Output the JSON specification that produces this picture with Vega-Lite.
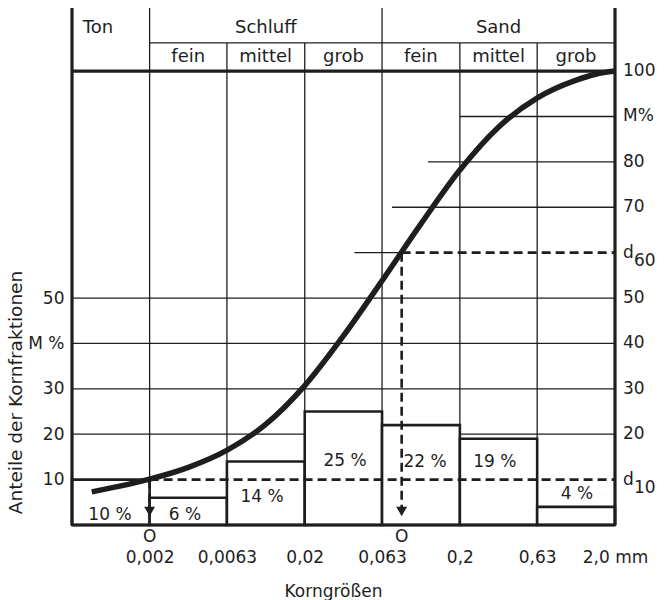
{
  "$schema": "https://vega.github.io/schema/vega-lite/v6.json",
  "width": 543,
  "height": 517,
  "autosize": {"type": "none"},
  "padding": {"left": 72, "top": 8, "right": 53, "bottom": 75},
  "background": "white",
  "config": {
    "view": {"stroke": null},
    "font": "DejaVu Sans",
    "axis": {"labelFont": "DejaVu Sans", "titleFont": "DejaVu Sans", "labelColor": "#1e1e1e", "titleColor": "#1e1e1e", "labelFontSize": 17, "titleFontSize": 17, "titleFontWeight": "normal", "domain": false, "ticks": false, "grid": false},
    "text": {"font": "DejaVu Sans", "fontSize": 17, "color": "#1e1e1e"}
  },
  "datasets": {
    "thin": [
      {"x": 0.000632, "x2": 2, "y": 20, "y2": 20},
      {"x": 0.000632, "x2": 2, "y": 30, "y2": 30},
      {"x": 0.000632, "x2": 2, "y": 40, "y2": 40},
      {"x": 0.000632, "x2": 2, "y": 50, "y2": 50},
      {"x": 0.0418, "x2": 0.0843, "y": 60, "y2": 60},
      {"x": 0.073, "x2": 2, "y": 70, "y2": 70},
      {"x": 0.1248, "x2": 2, "y": 80, "y2": 80},
      {"x": 0.2, "x2": 2, "y": 90, "y2": 90},
      {"x": 0.002, "x2": 2, "y": 106.2, "y2": 106.2},
      {"x": 0.002, "x2": 0.002, "y": 10, "y2": 113.9},
      {"x": 0.0063, "x2": 0.0063, "y": 0, "y2": 106.2},
      {"x": 0.02, "x2": 0.02, "y": 0, "y2": 106.2},
      {"x": 0.063, "x2": 0.063, "y": 0, "y2": 113.9},
      {"x": 0.2, "x2": 0.2, "y": 0, "y2": 106.2},
      {"x": 0.63, "x2": 0.63, "y": 0, "y2": 106.2}
    ],
    "thick": [
      {"x": 0.000632, "x2": 0.000632, "y": 0, "y2": 113.9},
      {"x": 2, "x2": 2, "y": 0, "y2": 113.9},
      {"x": 0.000632, "x2": 2, "y": 0, "y2": 0},
      {"x": 0.000632, "x2": 2, "y": 100, "y2": 100}
    ],
    "dash": [
      {"x": 0.002, "x2": 2, "y": 10, "y2": 10},
      {"x": 0.0843, "x2": 2, "y": 60, "y2": 60},
      {"x": 0.002, "x2": 0.002, "y": 10, "y2": 3},
      {"x": 0.0843, "x2": 0.0843, "y": 60, "y2": 3}
    ],
    "arrows": [
      {"x": 0.002, "y": 3},
      {"x": 0.0843, "y": 3}
    ],
    "bars": [
      {"lo": 0.000632, "hi": 0.002, "p": 10, "base": 0},
      {"lo": 0.002, "hi": 0.0063, "p": 6, "base": 0},
      {"lo": 0.0063, "hi": 0.02, "p": 14, "base": 0},
      {"lo": 0.02, "hi": 0.063, "p": 25, "base": 0},
      {"lo": 0.063, "hi": 0.2, "p": 22, "base": 0},
      {"lo": 0.2, "hi": 0.63, "p": 19, "base": 0},
      {"lo": 0.63, "hi": 2, "p": 4, "base": 0}
    ],
    "curve": [
      {"d": 0.000847, "c": 7.3},
      {"d": 0.001262, "c": 8.5},
      {"d": 0.002, "c": 10.1},
      {"d": 0.003557, "c": 12.7},
      {"d": 0.006325, "c": 16.5},
      {"d": 0.011247, "c": 22.2},
      {"d": 0.02, "c": 30.7},
      {"d": 0.03557, "c": 41.7},
      {"d": 0.06325, "c": 53.9},
      {"d": 0.11247, "c": 66.4},
      {"d": 0.2, "c": 78.2},
      {"d": 0.3557, "c": 87.7},
      {"d": 0.6325, "c": 94.1},
      {"d": 1.1247, "c": 98.0},
      {"d": 1.4998, "c": 99.3},
      {"d": 2, "c": 100}
    ],
    "head": [
      {"t": "Ton", "x": 0.00093, "y": 109.5},
      {"t": "Schluff", "x": 0.01122, "y": 109.5},
      {"t": "Sand", "x": 0.355, "y": 109.5},
      {"t": "fein", "x": 0.00355, "y": 103.1},
      {"t": "mittel", "x": 0.0112, "y": 103.1},
      {"t": "grob", "x": 0.0355, "y": 103.1},
      {"t": "fein", "x": 0.112, "y": 103.1},
      {"t": "mittel", "x": 0.355, "y": 103.1},
      {"t": "grob", "x": 1.12, "y": 103.1}
    ],
    "labels": [
      {"t": "10 %", "x": 0.00111, "y": 2.2},
      {"t": "6 %", "x": 0.00338, "y": 2.2},
      {"t": "14 %", "x": 0.0106, "y": 6.2},
      {"t": "25 %", "x": 0.0364, "y": 14.1},
      {"t": "22 %", "x": 0.1192, "y": 13.9},
      {"t": "19 %", "x": 0.3358, "y": 13.9},
      {"t": "4 %", "x": 1.138, "y": 6.8},
      {"t": "O", "x": 0.002, "y": -2.7},
      {"t": "O", "x": 0.0843, "y": -2.7}
    ],
    "rlabels": [
      {"t": "100", "x": 2, "y": 100},
      {"t": "M%", "x": 2, "y": 90},
      {"t": "80", "x": 2, "y": 80},
      {"t": "70", "x": 2, "y": 70},
      {"t": "d", "x": 2, "y": 60},
      {"t": "50", "x": 2, "y": 50},
      {"t": "40", "x": 2, "y": 40},
      {"t": "30", "x": 2, "y": 30},
      {"t": "20", "x": 2, "y": 20},
      {"t": "d", "x": 2, "y": 10}
    ],
    "subs": [
      {"t": "60", "x": 2, "y": 60},
      {"t": "10", "x": 2, "y": 10}
    ]
  },
  "layer": [
    {
      "data": {"name": "thin"},
      "mark": {"type": "rule", "stroke": "#1e1e1e", "strokeWidth": 1.3},
      "encoding": {
        "x": {"field": "x", "type": "quantitative", "scale": {"type": "log", "domain": [0.000632, 2], "nice": false},
          "axis": {"orient": "bottom", "values": [0.002, 0.0063, 0.02, 0.063, 0.2, 0.63, 2], "labelExpr": "datum.value >= 1.9 ? '2,0   mm' : replace(toString(datum.value), '.', ',')", "labelPadding": 32, "labelBaseline": "middle", "labelFlush": false, "labelOverlap": false, "title": "Korngrößen", "titleX": 261, "titleY": 71, "titleBaseline": "alphabetic"}},
        "x2": {"field": "x2"},
        "y": {"field": "y", "type": "quantitative", "scale": {"domain": [0, 113.9], "nice": false, "zero": false},
          "axis": {"orient": "left", "values": [10, 20, 30, 40, 50], "labelExpr": "datum.value == 40 ? 'M %' : datum.label", "labelPadding": 8, "title": "Anteile der Kornfraktionen", "titleFontSize": 18.5, "titleX": -57, "titleY": 384, "titleBaseline": "middle", "titleAlign": "center"}},
        "y2": {"field": "y2"}
      }
    },
    {
      "data": {"name": "bars"},
      "mark": {"type": "rect", "fill": "white", "stroke": "#1e1e1e", "strokeWidth": 2.6},
      "encoding": {
        "x": {"field": "lo", "type": "quantitative"},
        "x2": {"field": "hi"},
        "y": {"field": "base", "type": "quantitative"},
        "y2": {"field": "p"}
      }
    },
    {
      "data": {"name": "dash"},
      "mark": {"type": "rule", "stroke": "#1e1e1e", "strokeWidth": 2.6, "strokeDash": [9, 5]},
      "encoding": {
        "x": {"field": "x", "type": "quantitative"},
        "x2": {"field": "x2"},
        "y": {"field": "y", "type": "quantitative"},
        "y2": {"field": "y2"}
      }
    },
    {
      "data": {"name": "arrows"},
      "mark": {"type": "point", "shape": "triangle-down", "filled": true, "fill": "#1e1e1e", "opacity": 1, "size": 120},
      "encoding": {
        "x": {"field": "x", "type": "quantitative"},
        "y": {"field": "y", "type": "quantitative"}
      }
    },
    {
      "data": {"name": "curve"},
      "mark": {"type": "line", "stroke": "#1e1e1e", "strokeWidth": 5.5, "interpolate": "monotone"},
      "encoding": {
        "x": {"field": "d", "type": "quantitative"},
        "y": {"field": "c", "type": "quantitative"}
      }
    },
    {
      "data": {"name": "thick"},
      "mark": {"type": "rule", "stroke": "#1e1e1e", "strokeWidth": 3.2},
      "encoding": {
        "x": {"field": "x", "type": "quantitative"},
        "x2": {"field": "x2"},
        "y": {"field": "y", "type": "quantitative"},
        "y2": {"field": "y2"}
      }
    },
    {
      "data": {"name": "head"},
      "mark": {"type": "text", "baseline": "middle", "align": "center", "fontSize": 18},
      "encoding": {
        "x": {"field": "x", "type": "quantitative"},
        "y": {"field": "y", "type": "quantitative"},
        "text": {"field": "t"}
      }
    },
    {
      "data": {"name": "labels"},
      "mark": {"type": "text", "baseline": "middle", "align": "center"},
      "encoding": {
        "x": {"field": "x", "type": "quantitative"},
        "y": {"field": "y", "type": "quantitative"},
        "text": {"field": "t"}
      }
    },
    {
      "data": {"name": "rlabels"},
      "mark": {"type": "text", "baseline": "middle", "align": "left", "dx": 8},
      "encoding": {
        "x": {"field": "x", "type": "quantitative"},
        "y": {"field": "y", "type": "quantitative"},
        "text": {"field": "t"}
      }
    },
    {
      "data": {"name": "subs"},
      "mark": {"type": "text", "baseline": "middle", "align": "left", "dx": 19, "dy": 8},
      "encoding": {
        "x": {"field": "x", "type": "quantitative"},
        "y": {"field": "y", "type": "quantitative"},
        "text": {"field": "t"}
      }
    }
  ]
}
